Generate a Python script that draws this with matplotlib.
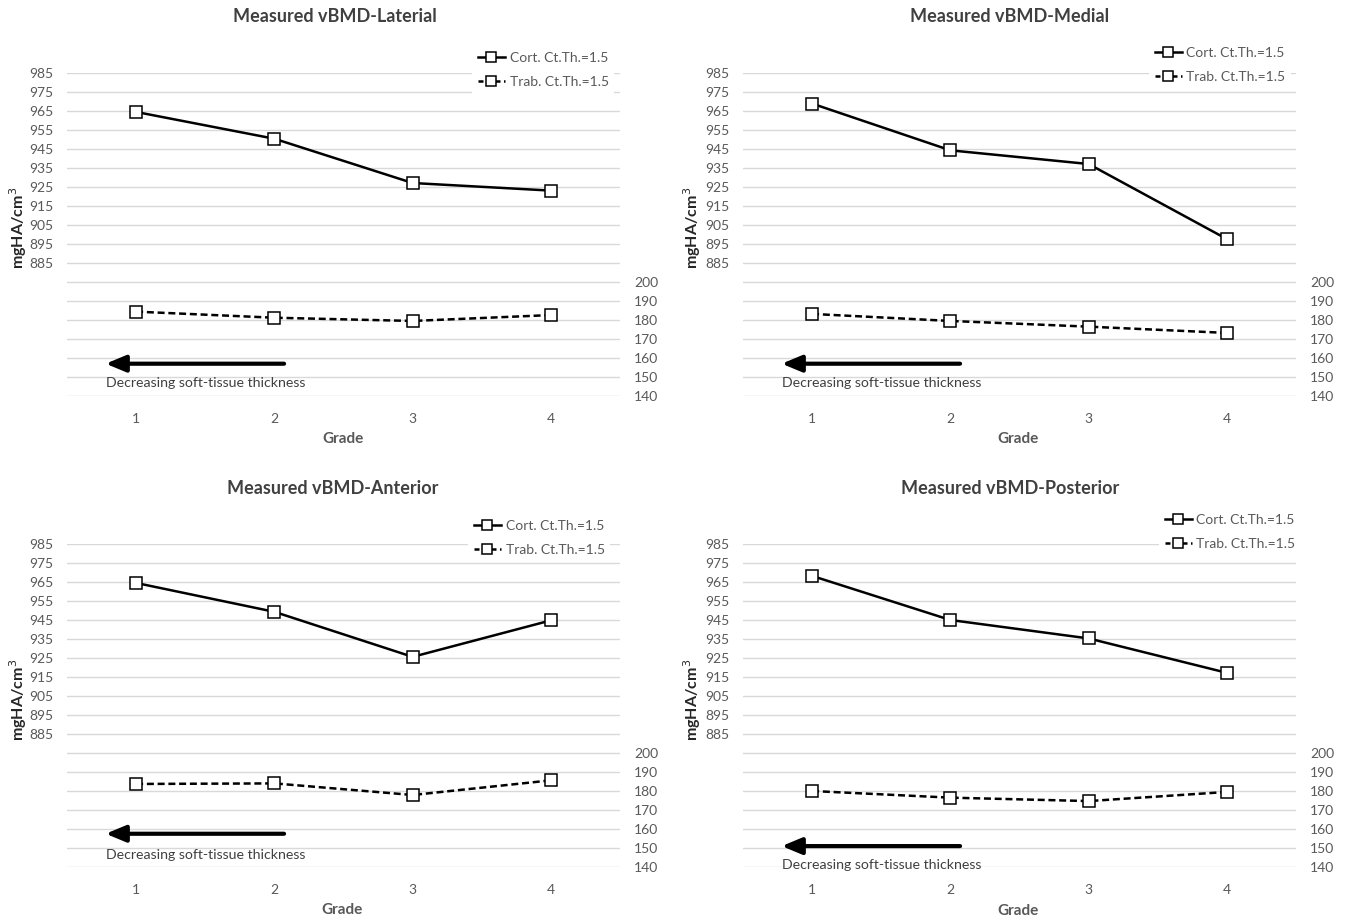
import matplotlib
matplotlib.use("Agg")
import matplotlib.pyplot as plt
from matplotlib.lines import Line2D

plt.rcParams["font.family"] = ["Lato", "DejaVu Sans"]

W, H = 1350, 923

# Grades on the x axis and the measured vBMD per region
grades = [1, 2, 3, 4]
region_titles = ["Measured vBMD-Laterial", "Measured vBMD-Medial",
                 "Measured vBMD-Anterior", "Measured vBMD-Posterior"]
lateral_cort = [964.5, 950.4, 927.1, 923.1]
lateral_trab = [184.4, 181.2, 179.5, 182.6]
medial_cort = [968.9, 944.3, 937.1, 897.6]
medial_trab = [183.2, 179.5, 176.5, 173.2]
anterior_cort = [964.5, 949.3, 925.6, 944.8]
anterior_trab = [183.7, 184.0, 177.9, 185.6]
posterior_cort = [968.2, 945.0, 935.3, 917.2]
posterior_trab = [180.0, 176.5, 174.7, 179.5]

cort_label = "Cort. Ct.Th.=1.5"
trab_label = "Trab. Ct.Th.=1.5"
arrow_text = "Decreasing soft-tissue thickness"

left_ticks = list(range(815, 986, 10))
left_labelled = list(range(885, 986, 10))
right_ticks = list(range(140, 201, 10))
OFFSET = 675  # right axis = left axis - OFFSET

TICK_C = "#595959"
GRID_C = "#d9d9d9"
TITLE_C = "#404040"

# per-panel layout in pixels: plot box, title, ylabel, xlabel, legend, arrow y, text y
layout = [
    dict(box=(67, 73, 620, 396), title=(335, 17), ylab=(18, 228), xlab=(343, 439),
         leg=(472, 46), arrow_y=157, text_y=147),
    dict(box=(743, 73, 1296, 396), title=(1010, 17), ylab=(692, 228), xlab=(1018, 439),
         leg=(1149, 41), arrow_y=157, text_y=147),
    dict(box=(67, 544, 620, 867), title=(333, 488), ylab=(18, 700), xlab=(342, 910),
         leg=(468, 514), arrow_y=157.5, text_y=146.5),
    dict(box=(743, 544, 1296, 867), title=(1010, 489), ylab=(692, 700), xlab=(1018, 911),
         leg=(1159, 508), arrow_y=151, text_y=140.8),
]
cort_series = [lateral_cort, medial_cort, anterior_cort, posterior_cort]
trab_series = [lateral_trab, medial_trab, anterior_trab, posterior_trab]

fig = plt.figure(figsize=(W / 100, H / 100), dpi=100)

for title, cort, trab, lay in zip(region_titles, cort_series, trab_series, layout):
    x0, y0, x1, y1 = lay["box"]
    ax = fig.add_axes([x0 / W, 1 - y1 / H, (x1 - x0) / W, (y1 - y0) / H])
    ax2 = ax.twinx()

    ax.set_xlim(0.5, 4.5)
    ax.set_ylim(815, 985)
    ax2.set_ylim(815 - OFFSET, 985 - OFFSET)

    ax.set_yticks(left_ticks)
    ax.set_yticklabels([str(t) if t in left_labelled else "" for t in left_ticks])
    ax2.set_yticks(right_ticks)
    ax.set_xticks(grades)
    ax.grid(axis="y", color=GRID_C, lw=1.0)
    ax.set_axisbelow(True)
    for a in (ax, ax2):
        for s in a.spines.values():
            s.set_visible(False)
        a.tick_params(length=0, labelsize=10, labelcolor=TICK_C)
    ax.tick_params(axis="y", pad=10)
    ax.tick_params(axis="x", pad=12)
    ax2.tick_params(axis="y", pad=10)

    ax.plot(grades, cort, color="black", lw=1.8, marker="s", ms=8,
            mfc="white", mec="black", mew=1.1, zorder=3)
    ax2.plot(grades, trab, color="black", lw=1.8, dashes=(2.8, 1.5), marker="s", ms=8,
             mfc="white", mec="black", mew=1.1, zorder=3)

    ax2.annotate("", xy=(0.78, lay["arrow_y"]), xytext=(2.07, lay["arrow_y"]),
                 arrowprops=dict(arrowstyle="-|>,head_length=0.6,head_width=0.25",
                                 color="black", lw=3, mutation_scale=20,
                                 shrinkA=0, shrinkB=0))
    ax2.text(0.78, lay["text_y"], arrow_text, ha="left", va="center",
             fontsize=10.2, color=TITLE_C)

    handles = [
        Line2D([], [], color="black", lw=1.8, marker="s", ms=7, mfc="white",
               mec="black", mew=1.1),
        Line2D([], [], color="black", lw=1.8, dashes=(2, 1.4), marker="s", ms=7,
               mfc="white", mec="black", mew=1.1),
    ]
    lx, ly = lay["leg"]
    ax2.legend(handles, [cort_label, trab_label], loc="upper left",
               bbox_to_anchor=(lx / W, 1 - ly / H), bbox_transform=fig.transFigure,
               numpoints=1, frameon=True, facecolor="white", edgecolor="none",
               framealpha=1.0, fancybox=False, fontsize=10, labelcolor=TICK_C,
               handlelength=2.0, handletextpad=0.3, labelspacing=0.9,
               borderpad=0.4, borderaxespad=0)

    tx, ty = lay["title"]
    fig.text(tx / W, 1 - ty / H, title, ha="center", va="center",
             fontsize=13, fontweight="bold", color=TITLE_C)
    yx, yy = lay["ylab"]
    fig.text(yx / W, 1 - yy / H, "mgHA/cm$^3$", ha="center", va="center",
             rotation=90, fontsize=11.5, fontweight="bold", color="#262626")
    gx, gy = lay["xlab"]
    fig.text(gx / W, 1 - gy / H, "Grade", ha="center", va="center",
             fontsize=11, fontweight="bold", color=TICK_C)

fig.savefig("out.png", dpi=100, facecolor="white")
